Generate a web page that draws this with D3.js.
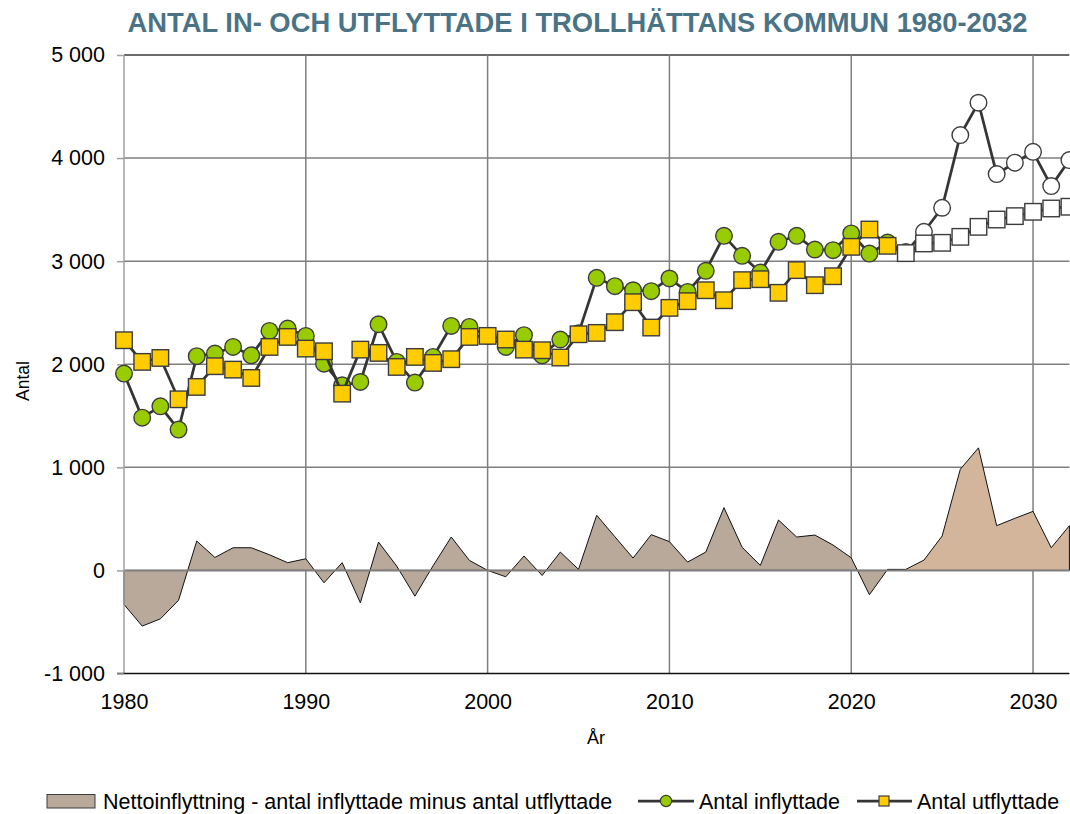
<!DOCTYPE html>
<html>
<head>
<meta charset="utf-8">
<script src="https://cdn.jsdelivr.net/npm/d3@7"></script>
<style>
  html, body { margin: 0; padding: 0; background: #fff; }
  svg { display: block; }
  text { font-family: "Liberation Sans", Arial, sans-serif; fill: #000; }
</style>
</head>
<body>
<svg id="chart" width="1070" height="814"></svg>
<script>
// ---------- data ----------
const years = d3.range(1980, 2033);
const firstForecastYear = 2023;

const inflyttade = [
  1910, 1482, 1592, 1366, 2078, 2104, 2168, 2087, 2323, 2346,
  2275, 2006, 1796, 1828, 2388, 2023, 1822, 2071, 2372, 2362,
  2275, 2168, 2282, 2087, 2240, 2300, 2838, 2757, 2718, 2709,
  2832, 2702, 2906, 3246, 3052, 2890, 3188, 3246, 3113, 3107,
  3269, 3074, 3180, 3088, 3285, 3518, 4223, 4537, 3845, 3955,
  4061, 3728, 3981
];

const utflyttade = [
  2233, 2023, 2061, 1660, 1780, 1981, 1948, 1867, 2168, 2265,
  2152, 2126, 1715, 2142, 2110, 1974, 2071, 2013, 2049, 2265,
  2275, 2240, 2142, 2136, 2065, 2291, 2304, 2408, 2602, 2356,
  2547, 2612, 2718, 2621, 2816, 2825, 2693, 2913, 2767, 2854,
  3139, 3307, 3149, 3078, 3172, 3178, 3236, 3333, 3404, 3437,
  3479, 3511, 3528
];

const netto = [
  -330, -540, -470, -290, 285, 126, 220, 220, 152, 75,
  113, -120, 75, -314, 275, 42, -250, 45, 324, 97,
  0, -62, 140, -49, 178, 10, 535, 327, 120, 347,
  279, 81, 178, 609, 224, 49, 489, 324, 343, 246,
  123, -236, 10, 10, 100, 334, 982, 1189, 434, 505,
  573, 220, 434
];

const yTicks = [-1000, 0, 1000, 2000, 3000, 4000, 5000];
const xTicks = [1980, 1990, 2000, 2010, 2020, 2030];

const titleText = "ANTAL IN- OCH UTFLYTTADE I TROLLHÄTTANS KOMMUN 1980-2032";
const yTitle = "Antal";
const xTitle = "År";
const legendNames = [
  "Nettoinflyttning - antal inflyttade minus antal utflyttade",
  "Antal inflyttade",
  "Antal utflyttade"
];

// ---------- styles ----------
const C = {
  title: "#4a7486",
  areaHist: "#b8a99a",
  areaProg: "#d3b59b",
  green: "#99cc00",
  yellow: "#ffcc00",
  line: "#353535",
  mstroke: "#3c3c3c",
  grid: "#7f7f7f"
};

// ---------- scales ----------
const svg = d3.select("#chart");
const pLeft = 124, pRight = 1069.4, pTop = 55, pBottom = 673.5;
const x = d3.scaleLinear().domain([1980, 2032]).range([pLeft, pRight]);
const y = d3.scaleLinear().domain([-1000, 5000]).range([pBottom, pTop]);

svg.append("rect").attr("width", 1070).attr("height", 814).attr("fill", "#fff");

const fmtLocale = d3.formatLocale({ decimal: ",", thousands: "\u00a0", grouping: [3], currency: ["", ""], minus: "-" });
const fmt = fmtLocale.format(",d");

// ---------- gridlines ----------
const grid = svg.append("g");
grid.selectAll("line.h").data(yTicks.filter(v => v > -1000 && v !== 0)).join("line")
  .attr("x1", pLeft).attr("x2", pRight)
  .attr("y1", d => y(d)).attr("y2", d => y(d))
  .attr("stroke", d => d === 5000 ? "#3a3a3a" : C.grid).attr("stroke-width", 1.5);
grid.selectAll("line.v").data(xTicks.filter(v => v > 1980)).join("line")
  .attr("x1", d => x(d)).attr("x2", d => x(d))
  .attr("y1", pTop).attr("y2", pBottom)
  .attr("stroke", C.grid).attr("stroke-width", 1.5);

// ---------- net area ----------
const pts = years.map((yr, i) => ({ yr, inn: inflyttade[i], ut: utflyttade[i], net: netto[i] }));
const area = d3.area().x(d => x(d.yr)).y0(y(0)).y1(d => y(d.net));
const hist = pts.filter(d => d.yr <= firstForecastYear - 1);
const prog = pts.filter(d => d.yr >= firstForecastYear - 1);
svg.append("path").datum(hist).attr("d", area)
  .attr("fill", C.areaHist).attr("stroke", "#111").attr("stroke-width", 1);
svg.append("path").datum(prog).attr("d", area)
  .attr("fill", C.areaProg).attr("stroke", "#111").attr("stroke-width", 1);

// zero line on top
svg.append("line").attr("x1", pLeft).attr("x2", pRight)
  .attr("y1", y(0)).attr("y2", y(0)).attr("stroke", C.grid).attr("stroke-width", 2);

// ---------- axes ----------
svg.append("line").attr("x1", pLeft).attr("x2", pLeft).attr("y1", pTop).attr("y2", pBottom)
  .attr("stroke", "#a0a0a0").attr("stroke-width", 1.5);
svg.append("line").attr("x1", pLeft - 7).attr("x2", pRight).attr("y1", pBottom).attr("y2", pBottom)
  .attr("stroke", "#111").attr("stroke-width", 1.5);

const yAxis = svg.append("g").attr("transform", `translate(${pLeft},0)`)
  .call(d3.axisLeft(y).tickValues(yTicks).tickSize(7).tickPadding(12).tickFormat(fmt));
yAxis.select(".domain").remove();
yAxis.selectAll(".tick line").attr("stroke", "#a0a0a0").attr("stroke-width", 1.5);
yAxis.selectAll("text").attr("font-size", 21.5).attr("font-family", '"Liberation Sans", Arial, sans-serif').attr("fill", "#000");

const xAxis = svg.append("g").attr("transform", `translate(0,${pBottom})`)
  .call(d3.axisBottom(x).tickValues(xTicks).tickSize(0).tickPadding(20).tickFormat(d3.format("d")));
xAxis.select(".domain").remove();
xAxis.selectAll("text").attr("font-size", 21.5).attr("font-family", '"Liberation Sans", Arial, sans-serif').attr("fill", "#000");

// ---------- lines + markers ----------
const lineIn = d3.line().x(d => x(d.yr)).y(d => y(d.inn));
const lineUt = d3.line().x(d => x(d.yr)).y(d => y(d.ut));

svg.append("path").datum(pts).attr("d", lineIn)
  .attr("fill", "none").attr("stroke", C.line).attr("stroke-width", 2.75).attr("stroke-linejoin", "round");
svg.append("g").selectAll("circle").data(pts).join("circle")
  .attr("cx", d => x(d.yr)).attr("cy", d => y(d.inn)).attr("r", 8.3)
  .attr("fill", d => d.yr >= firstForecastYear ? "#fff" : C.green)
  .attr("stroke", C.mstroke).attr("stroke-width", 1.4);

svg.append("path").datum(pts).attr("d", lineUt)
  .attr("fill", "none").attr("stroke", C.line).attr("stroke-width", 2.75).attr("stroke-linejoin", "round");
const sq = 16.5;
svg.append("g").selectAll("rect").data(pts).join("rect")
  .attr("x", d => x(d.yr) - sq / 2).attr("y", d => y(d.ut) - sq / 2)
  .attr("width", sq).attr("height", sq)
  .attr("fill", d => d.yr >= firstForecastYear ? "#fff" : C.yellow)
  .attr("stroke", C.mstroke).attr("stroke-width", 1.4);

// ---------- titles ----------
svg.append("text").attr("x", 577.5).attr("y", 32).attr("text-anchor", "middle")
  .attr("font-family", 'Roboto, "Liberation Sans", sans-serif').attr("font-weight", "bold")
  .attr("font-size", 28.5).attr("textLength", 900).attr("lengthAdjust", "spacingAndGlyphs")
  .style("fill", C.title).text(titleText);

svg.append("text").attr("transform", "translate(28.5,381) rotate(-90)").attr("text-anchor", "middle")
  .attr("font-size", 17.5).text(yTitle);
svg.append("text").attr("x", 596).attr("y", 744).attr("text-anchor", "middle")
  .attr("font-size", 18).text(xTitle);

// ---------- legend ----------
const lg = svg.append("g").attr("font-size", 21.5);
const ly = 801, lb = 808.5;
lg.append("rect").attr("x", 47).attr("y", ly - 6.5).attr("width", 48).attr("height", 13.5)
  .attr("fill", C.areaHist).attr("stroke", "#3c3c3c").attr("stroke-width", 1);
lg.append("text").attr("x", 103).attr("y", lb).text(legendNames[0]);

lg.append("line").attr("x1", 638).attr("x2", 694).attr("y1", ly).attr("y2", ly)
  .attr("stroke", C.line).attr("stroke-width", 2.75);
lg.append("circle").attr("cx", 666).attr("cy", ly).attr("r", 5.6)
  .attr("fill", C.green).attr("stroke", C.mstroke).attr("stroke-width", 1.2);
lg.append("text").attr("x", 699).attr("y", lb).text(legendNames[1]);

lg.append("line").attr("x1", 857).attr("x2", 912).attr("y1", ly).attr("y2", ly)
  .attr("stroke", C.line).attr("stroke-width", 2.75);
lg.append("rect").attr("x", 884 - 5).attr("y", ly - 5).attr("width", 10).attr("height", 10)
  .attr("fill", C.yellow).attr("stroke", C.mstroke).attr("stroke-width", 1.2);
lg.append("text").attr("x", 917).attr("y", lb).text(legendNames[2]);
</script>
</body>
</html>
